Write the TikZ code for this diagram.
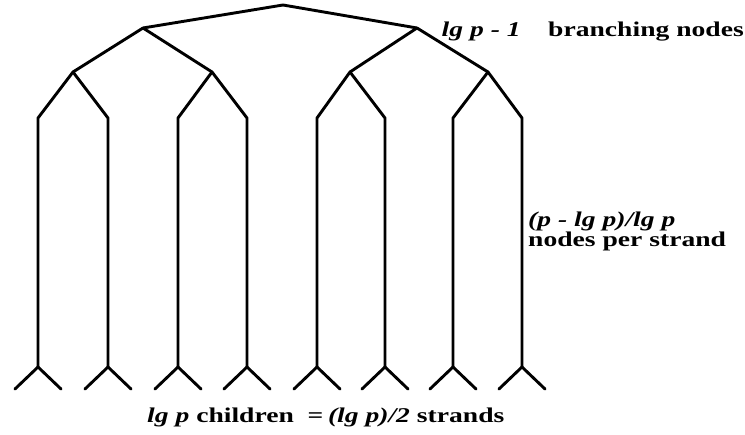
\documentclass[tikz,border=0pt]{standalone}
\usepackage{fontspec}
\usepackage{graphicx}
\setmainfont{Liberation Serif}
\newcommand{\widetxt}[1]{\scalebox{1.38}[1.05]{#1}}
\begin{document}
\begin{tikzpicture}[x=1pt,y=-1pt,
  edge/.style={line width=2.9pt,line join=round,line cap=round},
  lbl/.style={inner sep=0pt,font=\fontsize{20}{20}\selectfont\bfseries}]
\useasboundingbox (0,0) rectangle (745,435);
% tree nodes
\coordinate (r) at (283,5);
\coordinate (a) at (143,28);
\coordinate (b) at (417,28);
\coordinate (a1) at (73,72);
\coordinate (a2) at (212,72);
\coordinate (b1) at (350,72);
\coordinate (b2) at (488,72);
\foreach \i/\x in {1/38,2/108,3/178,4/247,5/317,6/385,7/453,8/522}{
  \coordinate (t\i) at (\x,118);
  \coordinate (f\i) at (\x,367);
  \coordinate (cl\i) at (\x-23,389);
  \coordinate (cr\i) at (\x+23,389);
}
\draw[edge] (a) -- (r) -- (b);
\draw[edge] (a1) -- (a) -- (a2);
\draw[edge] (b1) -- (b) -- (b2);
\draw[edge] (f1) -- (t1) -- (a1) -- (t2) -- (f2);
\draw[edge] (f3) -- (t3) -- (a2) -- (t4) -- (f4);
\draw[edge] (f5) -- (t5) -- (b1) -- (t6) -- (f6);
\draw[edge] (f7) -- (t7) -- (b2) -- (t8) -- (f8);
\foreach \i in {1,...,8}{
  \draw[edge] (cl\i) -- (f\i) -- (cr\i);
}
% labels
\node[lbl,anchor=base east] (top) at (744,37)
  {\widetxt{\textit{lg p - 1}\quad branching nodes}};
\node[lbl,anchor=base west] (mid1) at (528,227)
  {\widetxt{\textit{(p - lg p)/lg p}}};
\node[lbl,anchor=base west] (mid2) at (528,247)
  {\widetxt{nodes per strand}};
\node[lbl,anchor=base west] (bot) at (147,423)
  {\widetxt{\textit{lg p} children \ =\,\textit{(lg p)/2} strands}};
\end{tikzpicture}
\end{document}
